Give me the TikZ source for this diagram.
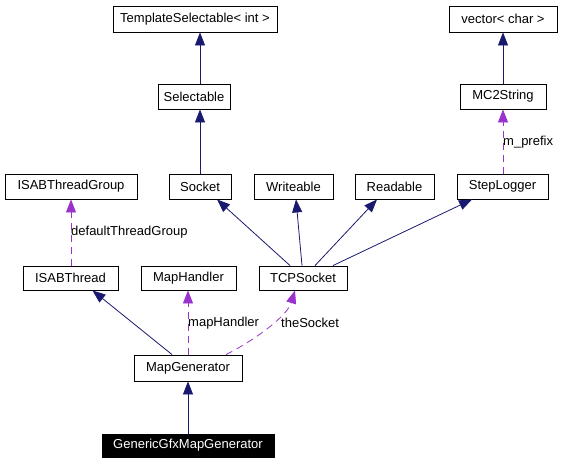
\documentclass[tikz,border=0pt]{standalone}
\usepackage{fontspec}
\setmainfont{Liberation Sans}
\usetikzlibrary{arrows.meta}
\definecolor{navy}{HTML}{191970}
\definecolor{orchid}{HTML}{9A32CD}
\tikzset{
  box/.style={draw=black, line width=0.9pt, inner sep=0pt, minimum height=25pt, fill=white, font=\fontsize{13}{15}\selectfont},
  inh/.style={draw=navy, line width=0.8pt, -{Triangle[length=13pt,width=10pt]}, navy},
  use/.style={draw=orchid, line width=0.8pt, dash pattern=on 7pt off 5pt, -{Triangle[length=13pt,width=10pt]}, orchid},
  lbl/.style={anchor=west, inner sep=0pt, font=\fontsize{13}{15}\selectfont}
}
\begin{document}
\begin{tikzpicture}[x=1pt,y=-1pt]
\useasboundingbox (0,0) rectangle (561,464);
\node[box, minimum width=164pt, minimum height=26pt] (TS) at (195,19) {TemplateSelectable< int >};
\node[box, minimum width=72pt] (Sel) at (194,96.5) {Selectable};
\node[box, minimum width=108pt, minimum height=26pt] (Vec) at (503,19) {vector< char >};
\node[box, minimum width=86pt] (MC2) at (503,96.5) {MC2String};
\node[box, minimum width=132pt] (ITG) at (71,186.5) {ISABThreadGroup};
\node[box, minimum width=62pt] (Sock) at (200,186.5) {Socket};
\node[box, minimum width=79pt] (Wr) at (293.5,186.5) {Writeable};
\node[box, minimum width=79pt] (Rd) at (394.5,186.5) {Readable};
\node[box, minimum width=91pt] (SL) at (502.5,186.5) {StepLogger};
\node[box, minimum width=95pt, minimum height=24pt] (IT) at (70.5,278) {ISABThread};
\node[box, minimum width=95pt, minimum height=24pt] (MH) at (188.5,278) {MapHandler};
\node[box, minimum width=88pt, minimum height=24pt] (TCP) at (303,278) {TCPSocket};
\node[box, minimum width=108pt, minimum height=26pt] (MG) at (188,368) {MapGenerator};
\node[box, minimum width=172pt, minimum height=23pt, fill=black, text=white] (GG) at (188,445.5) {GenericGfxMapGenerator};

\draw[inh] ([xshift=6pt]Sel.north) -- ([xshift=5pt]TS.south);
\draw[inh] (Sock.north) -- ([xshift=6pt]Sel.south);
\draw[inh] (MC2.north) -- (Vec.south);
\draw[use] ([xshift=0.5pt]SL.north) -- (MC2.south);
\draw[use] ([xshift=0.5pt]IT.north) -- (ITG.south);
\draw[inh] ([xshift=-13pt]TCP.north) -- ([xshift=17pt]Sock.south);
\draw[inh] ([xshift=-1pt]TCP.north) -- ([xshift=2.5pt]Wr.south);
\draw[inh] ([xshift=12pt]TCP.north) -- ([xshift=-17.5pt]Rd.south);
\draw[inh] ([xshift=30pt]TCP.north) -- ([xshift=-30.5pt]SL.south);
\draw[inh] ([xshift=-16pt]MG.north) -- ([xshift=22pt]IT.south);
\draw[use] (MG.north) -- ([xshift=-0.5pt]MH.south);
\draw[use] ([xshift=38pt]MG.north) .. controls ([xshift=66pt,yshift=14pt]MG.north) and ([xshift=-16pt,yshift=-26pt]TCP.south) .. ([xshift=-8pt]TCP.south);
\draw[inh] (GG.north) -- (MG.south);

\node[lbl] (lmp) at (503,142) {m\_prefix};
\node[lbl] (ldt) at (71,232) {defaultThreadGroup};
\node[lbl] (lmh) at (188,323) {mapHandler};
\node[lbl] (lts) at (281,323) {theSocket};
\end{tikzpicture}
\end{document}
